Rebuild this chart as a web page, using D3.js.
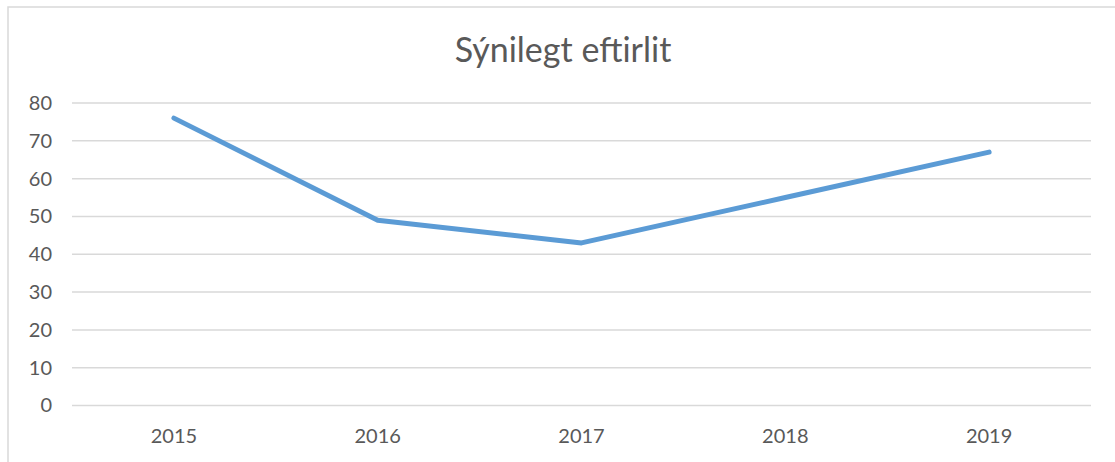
<!DOCTYPE html>
<html>
<head>
<meta charset="utf-8">
<script src="https://cdn.jsdelivr.net/npm/d3@7"></script>
<style>
  body { margin: 0; background: #fff; }
  text { font-family: Lato, "Open Sans", sans-serif; fill: #595959; }
</style>
</head>
<body>
<svg width="1115" height="462"></svg>
<script>
var years = ["2015", "2016", "2017", "2018", "2019"];
var values = [76, 49, 43, 55, 67];
var yTicks = [0, 10, 20, 30, 40, 50, 60, 70, 80];
var title = "Sýnilegt eftirlit";

var svg = d3.select("svg"),
    width = +svg.attr("width"),
    height = +svg.attr("height");

// chart frame
svg.append("rect")
    .attr("x", 8).attr("y", 7)
    .attr("width", 1125).attr("height", 470)
    .style("fill", "none")
    .style("stroke", "#d9d9d9")
    .style("stroke-width", 1.5);

var x = d3.scaleBand()
    .domain(years)
    .range([72, 1091]);

var y = d3.scaleLinear()
    .domain([0, 80])
    .range([405.5, 103]);

// gridlines
svg.append("g")
    .selectAll("line")
    .data(yTicks)
    .enter()
    .append("line")
    .attr("x1", 72).attr("x2", 1091)
    .attr("y1", function(d) { return y(d); })
    .attr("y2", function(d) { return y(d); })
    .style("stroke", "#d9d9d9")
    .style("stroke-width", 1.5);

// y labels
var yAxis = svg.append("g")
    .attr("transform", "translate(52,0)")
    .call(d3.axisLeft(y).tickValues(yTicks).tickSize(0).tickPadding(0));
yAxis.select(".domain").remove();
yAxis.selectAll("text")
    .style("font-size", "20px")
    .style("fill", "#595959")
    .style("font-family", "Lato, 'Open Sans', sans-serif");

// x labels
var xAxis = svg.append("g")
    .attr("transform", "translate(0,429)")
    .call(d3.axisBottom(x).tickSize(0).tickPadding(0));
xAxis.select(".domain").remove();
xAxis.selectAll("text")
    .style("font-size", "20px")
    .style("fill", "#595959")
    .style("font-family", "Lato, 'Open Sans', sans-serif");

// line
var line = d3.line()
    .x(function(d, i) { return x(years[i]) + x.bandwidth() / 2; })
    .y(function(d) { return y(d); });

svg.append("path")
    .datum(values)
    .attr("d", line)
    .style("fill", "none")
    .style("stroke", "#5b9bd5")
    .style("stroke-width", 5)
    .style("stroke-linecap", "round")
    .style("stroke-linejoin", "round");

// title
svg.append("text")
    .attr("x", 563)
    .attr("y", 62)
    .style("text-anchor", "middle")
    .style("font-size", "34px")
    .text(title);
</script>
</body>
</html>
